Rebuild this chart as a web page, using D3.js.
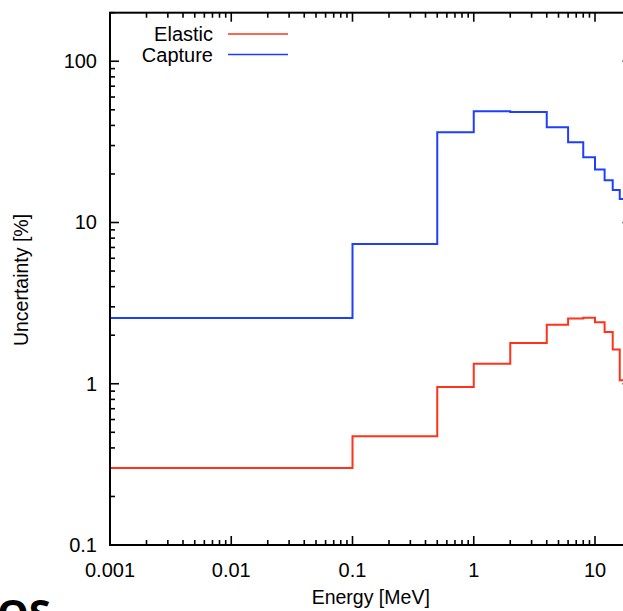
<!DOCTYPE html>
<html><head><meta charset="utf-8">
<script src="https://cdn.jsdelivr.net/npm/d3@7"></script>
<style>html,body{margin:0;padding:0;background:#fff;overflow:hidden}svg{display:block}text{font-family:"Liberation Sans",Arial,Helvetica,sans-serif;fill:#000}</style>
</head><body>
<script>
const energyEdges = [0.001, 0.1, 0.5, 1, 2, 4, 6, 8, 10, 12, 14, 16, 18, 20];
const captureValues = [2.56, 7.35, 36.3, 49, 48.5, 39, 31.4, 25.4, 21.3, 18.3, 15.9, 14.0, 12.5];
const elasticValues = [0.30, 0.472, 0.954, 1.33, 1.79, 2.32, 2.54, 2.57, 2.41, 2.09, 1.63, 1.05, 0.9];
const xTickLabels = ["0.001", "0.01", "0.1", "1", "10"];
const yTickLabels = ["0.1", "1", "10", "100"];
const seriesNames = ["Elastic", "Capture"];
const seriesColors = ["#ff3319", "#1f3fff"];

const W = 623, H = 611;
const svg = d3.select("body").append("svg").attr("width", W).attr("height", H);
const m = {l: 110, t: 12.7, r: 631.5, b: 545};
const x = d3.scaleLog().domain([0.001, 20]).range([m.l, m.r]);
const y = d3.scaleLog().domain([0.1, 200]).range([m.b, m.t]);

const g = svg.append("g");
svg.append("defs").append("clipPath").attr("id","pc").append("rect")
  .attr("x", m.l).attr("y", m.t).attr("width", m.r - m.l).attr("height", m.b - m.t);

function xMinor() { const a=[]; for (let e=-3; e<=1; e++) for (let k=1;k<=9;k++){const v=k*Math.pow(10,e); if(v>=0.001&&v<=20) a.push(v);} return a; }
function yMinor() { const a=[]; for (let e=-1; e<=2; e++) for (let k=1;k<=9;k++){const v=k*Math.pow(10,e); if(v>=0.1&&v<=200) a.push(v);} return a; }
const isMajor = v => Math.abs(Math.log10(v) - Math.round(Math.log10(v))) < 1e-9;
const tg = g.append("g").attr("stroke", "#000").attr("stroke-width", 1.6);
xMinor().forEach(v => {
  const L = isMajor(v) ? 9 : 5, px = x(v);
  tg.append("line").attr("x1", px).attr("x2", px).attr("y1", m.b).attr("y2", m.b - L);
  tg.append("line").attr("x1", px).attr("x2", px).attr("y1", m.t).attr("y2", m.t + L);
});
yMinor().forEach(v => {
  const L = isMajor(v) ? 9 : 5, py = y(v);
  tg.append("line").attr("x1", m.l).attr("x2", m.l + L).attr("y1", py).attr("y2", py);
  tg.append("line").attr("x1", m.r).attr("x2", m.r - L).attr("y1", py).attr("y2", py);
});

const line = d3.line().x(d => x(d[0])).y(d => y(d[1])).curve(d3.curveStepAfter);
[elasticValues, captureValues].forEach((vals, i) => {
  const pts = vals.map((v, j) => [energyEdges[j], v]);
  pts.push([energyEdges[energyEdges.length - 1], vals[vals.length - 1]]);
  g.append("path").attr("d", line(pts)).attr("fill", "none")
    .attr("stroke", seriesColors[i]).attr("stroke-width", 2).attr("clip-path", "url(#pc)");
});

g.append("rect").attr("x", m.l).attr("y", m.t).attr("width", m.r - m.l).attr("height", m.b - m.t)
  .attr("fill", "none").attr("stroke", "#000").attr("stroke-width", 2);

const fs = 20;
xTickLabels.forEach(t => {
  g.append("text").attr("x", x(+t)).attr("y", 577).attr("text-anchor", "middle")
    .attr("font-size", fs).text(t);
});
yTickLabels.forEach(t => {
  g.append("text").attr("x", 97).attr("y", y(+t) + 7).attr("text-anchor", "end")
    .attr("font-size", fs).text(t);
});

g.append("text").attr("x", (m.l + m.r) / 2).attr("y", 604).attr("text-anchor", "middle")
  .attr("font-size", 19.5).text("Energy [MeV]");
g.append("text").attr("transform", "translate(28,280) rotate(-90)").attr("text-anchor", "middle")
  .attr("font-size", 19.5).text("Uncertainty [%]");

seriesNames.forEach((n, i) => {
  const ly = 34 + i * 20.5;
  g.append("text").attr("x", 213).attr("y", ly + 7).attr("text-anchor", "end").attr("font-size", fs).text(n);
  g.append("line").attr("x1", 228).attr("x2", 288).attr("y1", ly).attr("y2", ly)
    .attr("stroke", seriesColors[i]).attr("stroke-width", 1.6);
});

svg.append("text").attr("x", -3).attr("y", 628).attr("font-size", 40).attr("font-weight", "bold")
  .style("font-family", "'Open Sans', sans-serif").text("OS");
</script>
</body></html>
